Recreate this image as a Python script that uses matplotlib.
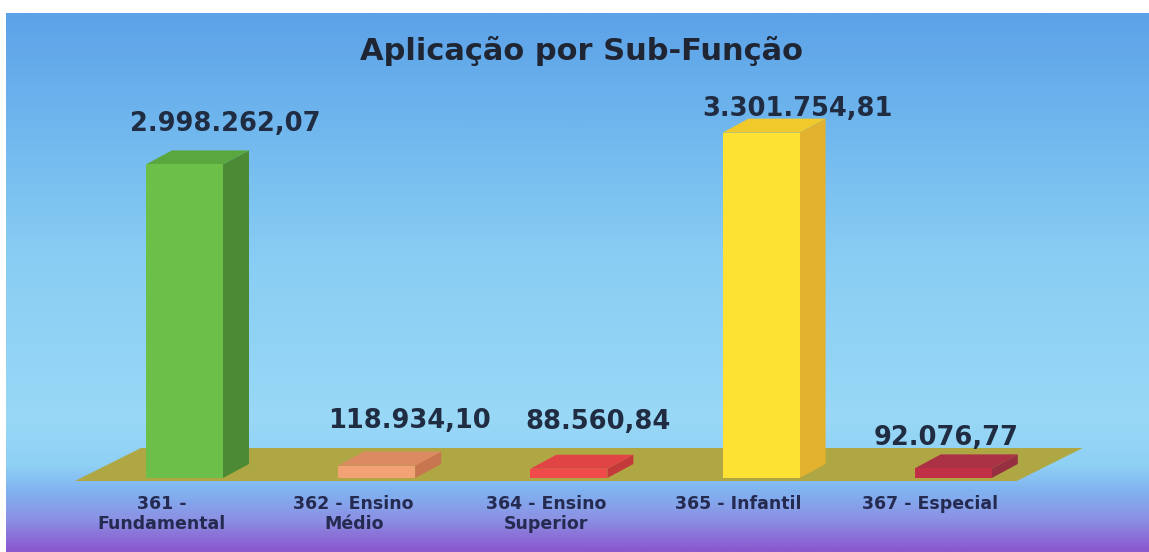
import numpy as np
import matplotlib
matplotlib.use("Agg")
import matplotlib.pyplot as plt
from matplotlib.patches import Polygon
from matplotlib.colors import LinearSegmentedColormap

# ---------------- data ----------------
title = "Aplicação por Sub-Função"
categories = ["361 -\nFundamental", "362 - Ensino\nMédio", "364 - Ensino\nSuperior",
              "365 - Infantil", "367 - Especial"]
values = [2998262.07, 118934.10, 88560.84, 3301754.81, 92076.77]
value_labels = ["2.998.262,07", "118.934,10", "88.560,84", "3.301.754,81", "92.076,77"]

# ---------------- styling ----------------
front_cols = ["#6cbf48", "#f2a274", "#f04a4a", "#fde133", "#c23048"]
side_cols = ["#4c8a35", "#c8764f", "#c43a3a", "#e2b22e", "#963040"]
top_cols = ["#5aa73f", "#dc8a62", "#e04444", "#f2c92a", "#aa3244"]

W, H = 1149, 552
fig = plt.figure(figsize=(W / 100, H / 100), dpi=100)
fig.patch.set_facecolor("white")

# background gradient (below a thin white band)
bg = fig.add_axes([6 / W, 0, 1 - 6 / W, (H - 13) / H])
bg.set_axis_off()
stops = [(0.0, "#8a58cf"), (0.06, "#8b92e4"), (0.11, "#80b2f0"), (0.16, "#8fd0f5"),
         (0.25, "#99d8f6"), (0.55, "#88cdf3"), (0.80, "#6fb6ee"), (1.0, "#5ca2e8")]
cmap = LinearSegmentedColormap.from_list("bg", stops)
grad = np.linspace(0, 1, 400).reshape(-1, 1)
bg.imshow(grad, aspect="auto", cmap=cmap, origin="lower", extent=[0, 1, 0, 1])
bg.set_xlim(0, 1)
bg.set_ylim(0, 1)

ax = fig.add_axes([0, 0, 1, 1])
ax.patch.set_alpha(0)
ax.set_axis_off()

# axis scales: category spacing ~192 px, ~104.6 px per million
spacing_px = 192.2
x0_px = 184.5
base_row = 478
px_per_val = 104.6e-6
ax.set_xlim(-x0_px / spacing_px, (W - x0_px) / spacing_px)
ax.set_ylim(-(H - base_row) / px_per_val, base_row / px_per_val)

n = len(values)
idx = np.arange(n)
bw = 77 / spacing_px          # front width
ddx = 26 / spacing_px         # depth x offset
ddy = 14 / px_per_val         # depth y offset

# floor
fl_dx = 66 / spacing_px
fl_front = -3 / px_per_val
fl_back = 30 / px_per_val
fl_left = idx[0] - 0.57
fl_right = idx[-1] + 0.33
floor = Polygon([(fl_left, fl_front), (fl_right, fl_front),
                 (fl_right + fl_dx, fl_back), (fl_left + fl_dx, fl_back)],
                closed=True, facecolor="#aea744", edgecolor="none", zorder=2)
ax.add_patch(floor)

for i, v in enumerate(values):
    xl = idx[i] - bw / 2
    xr = idx[i] + bw / 2
    # side
    ax.add_patch(Polygon([(xr, 0), (xr + ddx, ddy), (xr + ddx, v + ddy), (xr, v)],
                         closed=True, facecolor=side_cols[i], edgecolor="none", zorder=3))
    # top
    ax.add_patch(Polygon([(xl, v), (xr, v), (xr + ddx, v + ddy), (xl + ddx, v + ddy)],
                         closed=True, facecolor=top_cols[i], edgecolor="none", zorder=3))
    # front
    ax.bar(idx[i], v, width=bw, bottom=0, color=front_cols[i], zorder=4, linewidth=0)

# value labels (baseline placed a few px above the bar's back top edge)
lab_dx = [0.21, 0.17, 0.15, 0.19, -0.04]
lab_gap_px = [19, 24, 26, 3, 9]
for i, v in enumerate(values):
    ax.text(idx[i] + lab_dx[i], v + ddy + lab_gap_px[i] / px_per_val, value_labels[i],
            ha="center", va="baseline", fontsize=18.5, fontweight="bold",
            color="#1f2c42", zorder=6)

# category labels
for i, c in enumerate(categories):
    ax.text(idx[i] - 0.12, -17 / px_per_val, c, ha="center", va="top",
            fontsize=12.5, fontweight="bold", color="#252a50", zorder=6,
            linespacing=1.15)

# title
fig.text(582 / W, 1 - 51 / H, title, ha="center", va="center",
         fontsize=22, fontweight="bold", color="#1f2533")

fig.savefig("out.png", dpi=100)
